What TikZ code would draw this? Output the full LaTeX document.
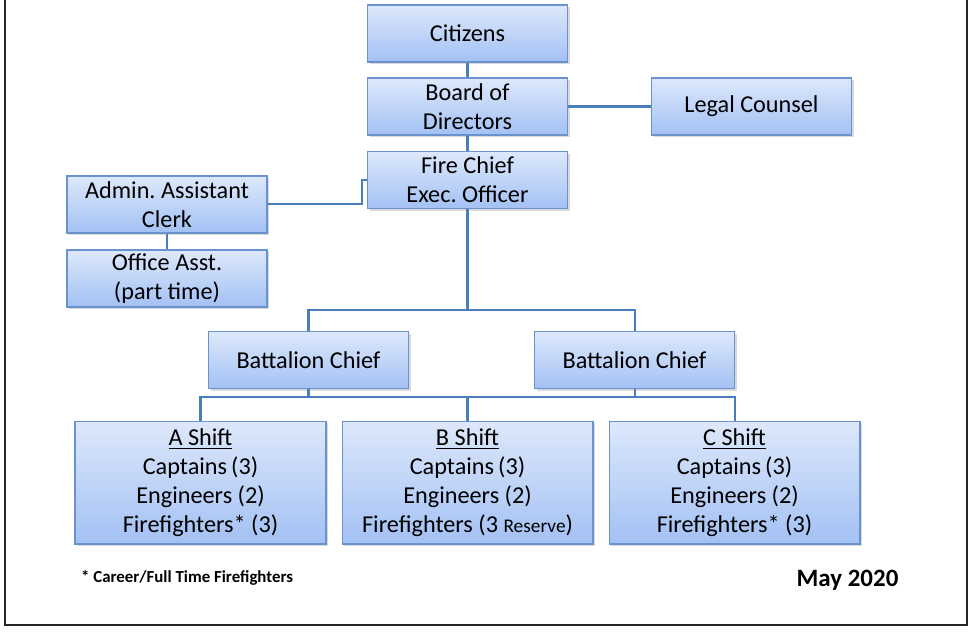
\documentclass[tikz,border=0pt]{standalone}
\usepackage{fontspec}
\setmainfont{Carlito}
\usetikzlibrary{shadows,backgrounds}
\frenchspacing

\definecolor{boxtop}{HTML}{DDE8FB}
\definecolor{boxbot}{HTML}{A3C1F4}
\definecolor{boxline}{HTML}{6A92CC}
\definecolor{linkblue}{HTML}{4A7EBB}

\begin{document}
\begin{tikzpicture}[x=0.02cm, y=-0.02cm,
    unit/.style={draw=boxline, line width=0.6pt, top color=boxtop, bottom color=boxbot,
        align=center, inner sep=0pt, minimum width=4cm, minimum height=1.14cm,
        font=\fontsize{13.8}{16.5}\selectfont,
        drop shadow={shadow xshift=1.3pt, shadow yshift=-1.3pt, opacity=0.3}},
    shiftbox/.style={unit, minimum width=5.02cm, minimum height=2.46cm},
    link/.style={draw=linkblue, line width=1.15pt}]

    \useasboundingbox (0,0) rectangle (969,637);

    % Draw the frame
    \draw[line width=1.1pt, black!85] (5,-20) -- (5,625) -- (967,625) -- (967,-20);

    % Top of the chart
    \node[unit] (citizens) at (467.5,33.5) {Citizens};
    \node[unit] (board) at (467.5,106.5) {Board of\\Directors};
    \node[unit] (legal) at (751.5,106.5) {Legal Counsel};
    \node[unit] (chief) at (467.5,180) {Fire Chief\\Exec. Officer};

    % Office staff
    \node[unit] (admin) at (167,204.5) {Admin. Assistant\\Clerk};
    \node[unit] (office) at (167,278.5) {Office Asst.\\(part time)};

    % Battalion chiefs
    \node[unit] (batl) at (308.5,360) {Battalion Chief};
    \node[unit] (batr) at (634.5,360) {Battalion Chief};

    % Shifts
    \node[shiftbox] (ashift) at (200.5,482.5) {\underline{A Shift}\\Captains\,(3)\\Engineers (2)\\Firefighters* (3)};
    \node[shiftbox] (bshift) at (467.5,482.5) {\underline{B Shift}\\Captains\,(3)\\Engineers (2)\\Firefighters (3 {\fontsize{11}{12}\selectfont Reserve})};
    \node[shiftbox] (cshift) at (734.5,482.5) {\underline{C Shift}\\Captains\,(3)\\Engineers (2)\\Firefighters* (3)};

    % Connectors
    \coordinate (bend) at (362,204);
    \coordinate (split) at (467.5,310);
    \coordinate (bus) at (467.5,397);

    \begin{scope}[on background layer]
    \draw[link] (citizens) -- (board);
    \draw[link] (board) -- (legal);
    \draw[link] (board) -- (chief);
    \draw[link] (admin.east |- bend) -- (bend) |- (chief.west);
    \draw[link] (admin) -- (office);
    \draw[link] (chief) -- (split);
    \draw[link] (split) -| (batl);
    \draw[link] (split) -| (batr);
    \draw[link] (batl) -- (batl.south |- bus);
    \draw[link] (batr) -- (batr.south |- bus);
    \draw[link] (ashift) |- (bus) -| (cshift);
    \draw[link] (bus) -- (bshift);
    \end{scope}

    % Footer
    \node[anchor=west, font=\bfseries\fontsize{9.6}{11}\selectfont] (note) at (75,578) {* Career/Full Time Firefighters};
    \node[font=\bfseries\fontsize{14.2}{16}\selectfont] (date) at (847.5,580) {May 2020};

\end{tikzpicture}
\end{document}
